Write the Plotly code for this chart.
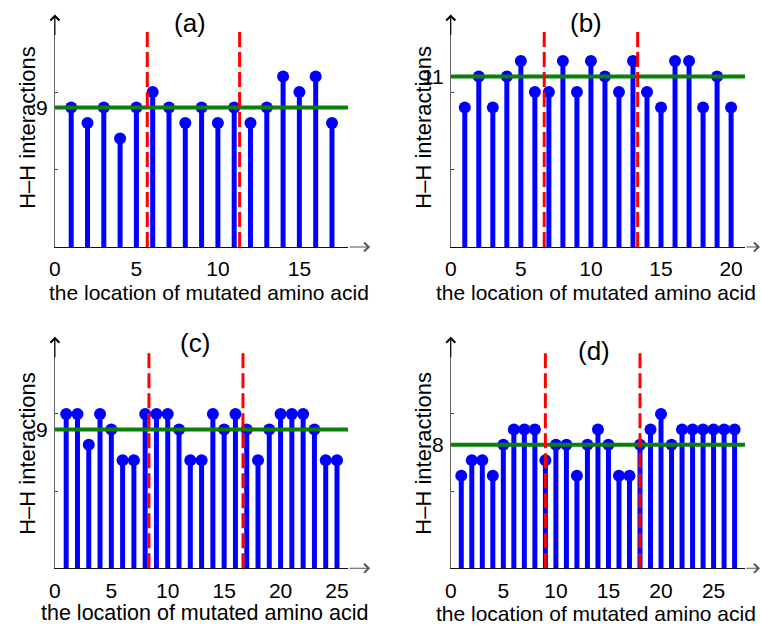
import plotly.graph_objects as go

W, H = 761, 626

# ---------------- data ----------------
panel_labels = ["(a)", "(b)", "(c)", "(d)"]
a_values = [9, 8, 9, 7, 9, 10, 9, 8, 9, 8, 9, 8, 9, 11, 10, 11, 8]
b_values = [9, 11, 9, 11, 12, 10, 10, 12, 10, 12, 11, 10, 12, 10, 9, 12, 12, 9, 11, 9]
c_values = [10, 10, 8, 10, 9, 7, 7, 10, 10, 10, 9, 7, 7, 10, 9, 10, 9, 7, 9, 10, 10, 10, 9, 7, 7]
d_values = [6, 7, 7, 6, 8, 9, 9, 9, 7, 8, 8, 6, 8, 9, 8, 6, 6, 8, 9, 10, 8, 9, 9, 9, 9, 9, 9]
reference_levels = [9, 11, 9, 8]
x_tick_sets = [[0, 5, 10, 15], [0, 5, 10, 15, 20], [0, 5, 10, 15, 20, 25], [0, 5, 10, 15, 20, 25]]
y_tick_marks = [5, 10]
x_title = "the location of mutated amino acid"
y_title = "H\u2013H interactions"

series = [a_values, b_values, c_values, d_values]

# ---------------- layout geometry (pixels) ----------------
left_px = [(49.3, 345), (448.3, 745), (49.3, 345), (448.3, 745)]
base_px = [247, 247, 568.3, 568.3]
top_px = [14.5, 14.5, 336.8, 336.8]
title_pos = [(185, 23), (585, 23), (190, 343), (593, 351)]
ytitle_pos = [(21, 127), (420, 127), (21, 453), (420, 453)]
xtitle_pos = [(205, 292), (595, 292), (200, 613), (595, 613)]
xtitle_size = [21, 21, 21.5, 21]
xarrow_tip = [367, 767, 367, 767]

FONT = "Liberation Sans, Arial, Helvetica, sans-serif"
YMAX = 15
RED_TOP = 14.2

fig = go.Figure()
annotations = []

for i, vals in enumerate(series):
    n = len(vals)
    k = "" if i == 0 else str(i + 1)
    xa, ya = "x" + k, "y" + k
    xs = list(range(1, n + 1))
    sx, sy = [], []
    for xv, yv in zip(xs, vals):
        sx += [xv, xv, None]
        sy += [0, yv, None]
    fig.add_trace(go.Scatter(x=sx, y=sy, mode="lines", line=dict(color="#0000ff", width=5),
                             xaxis=xa, yaxis=ya, hoverinfo="skip", cliponaxis=False))
    fig.add_trace(go.Scatter(x=xs, y=vals, mode="markers",
                             marker=dict(color="#0000ff", size=12, line=dict(width=0)),
                             xaxis=xa, yaxis=ya, cliponaxis=False))
    ref = reference_levels[i]
    fig.add_trace(go.Scatter(x=[0, n + 1], y=[ref, ref], mode="lines",
                             line=dict(color="#0a800a", width=4), xaxis=xa, yaxis=ya))
    for frac in (1 / 3, 2 / 3):
        fig.add_trace(go.Scatter(x=[n * frac, n * frac], y=[0, RED_TOP], mode="lines",
                                 line=dict(color="#ff0000", width=3, dash="15px,5px"),
                                 xaxis=xa, yaxis=ya))

    x0, x1 = left_px[i]
    xdom = [x0 / W, x1 / W]
    ydom = [1 - base_px[i] / H, 1 - top_px[i] / H]
    fig.layout["xaxis" + k] = dict(
        domain=xdom, range=[0, n + 1], anchor=ya, showgrid=False, zeroline=False,
        showline=True, linecolor="#111111", linewidth=1, ticks="",
        tickvals=x_tick_sets[i], ticktext=[str(v) for v in x_tick_sets[i]],
        tickfont=dict(family=FONT, size=21, color="#000"), ticklabelstandoff=3)
    fig.layout["yaxis" + k] = dict(
        domain=ydom, range=[0, YMAX], anchor=xa, showgrid=False, zeroline=False,
        showline=True, linecolor="#666666", linewidth=1, ticks="inside", ticklen=3,
        tickcolor="#444444", tickvals=y_tick_marks, showticklabels=False)

    # label of the reference level on the y-axis
    annotations.append(dict(x=(x0 - 5) / W, y=ref, xref="paper", yref=ya, text=str(ref),
                            showarrow=False, xanchor="right", yanchor="middle",
                            font=dict(family=FONT, size=21, color="#000")))
    # arrow at top of y-axis
    annotations.append(dict(x=0, y=YMAX, xref=xa, yref=ya, text="", showarrow=True,
                            ax=0, ay=22, arrowhead=4, arrowsize=1.6, arrowwidth=1.1,
                            arrowcolor="#000"))
    # arrow at end of x-axis
    annotations.append(dict(x=xarrow_tip[i] / W, y=1 - base_px[i] / H, xref="paper", yref="paper",
                            text="", showarrow=True, ax=-(xarrow_tip[i] - x1), ay=0,
                            arrowhead=4, arrowsize=1.6, arrowwidth=1.1, arrowcolor="#555"))
    tx, ty = title_pos[i]
    annotations.append(dict(x=tx / W, y=1 - ty / H, xref="paper", yref="paper", text=panel_labels[i],
                            showarrow=False, xanchor="center", yanchor="middle",
                            font=dict(family=FONT, size=26, color="#000")))
    yx, yy = ytitle_pos[i]
    annotations.append(dict(x=yx / W, y=1 - yy / H, xref="paper", yref="paper", text=y_title,
                            showarrow=False, textangle=-90, xanchor="center", yanchor="middle",
                            font=dict(family=FONT, size=22, color="#000")))
    xx, xy = xtitle_pos[i]
    annotations.append(dict(x=xx / W, y=1 - xy / H, xref="paper", yref="paper", text=x_title,
                            showarrow=False, xanchor="center", yanchor="middle",
                            font=dict(family=FONT, size=xtitle_size[i], color="#000")))

fig.update_layout(width=W, height=H, margin=dict(l=0, r=0, t=0, b=0),
                  paper_bgcolor="white", plot_bgcolor="white", showlegend=False,
                  annotations=annotations)
fig.write_html("out.html")
